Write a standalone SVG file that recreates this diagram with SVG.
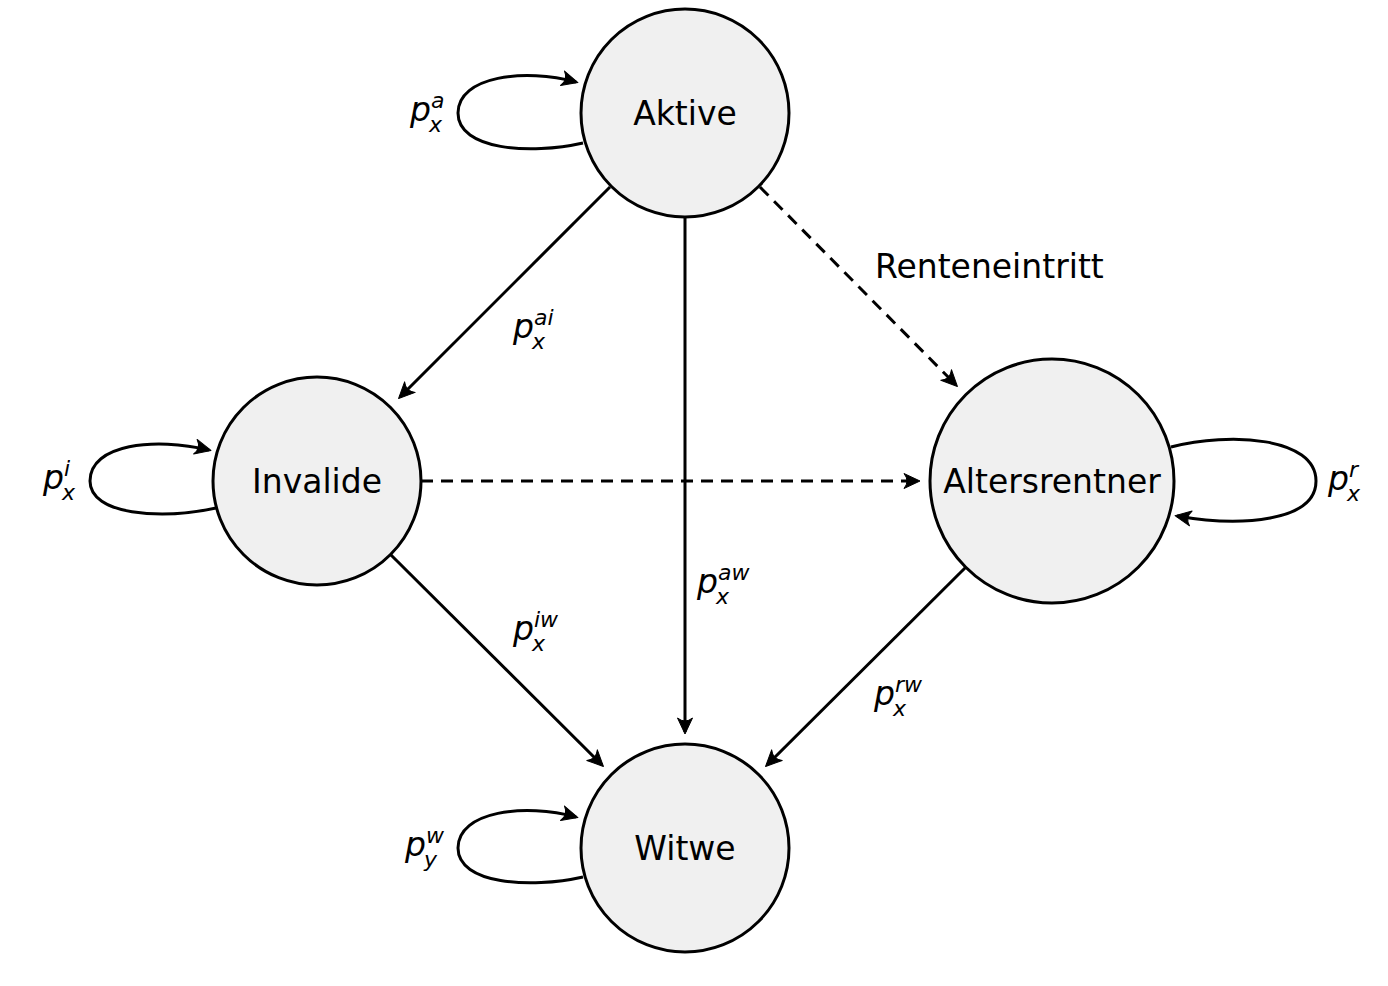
<svg xmlns="http://www.w3.org/2000/svg" width="1388" height="986" viewBox="0 0 1388 986">
<style>
.node circle{fill:#f0f0f0;stroke:#000;stroke-width:3}
.node text{font-family:"DejaVu Sans",sans-serif;font-size:33px;text-anchor:middle;fill:#000}
.edge{fill:none;stroke:#000;stroke-width:3}
.dash{stroke-dasharray:12 8}
.m{font-family:"DejaVu Sans",sans-serif;font-style:italic;fill:#000}
.p{font-size:33px}
.s{font-size:22px}
.lbl{font-family:"DejaVu Sans",sans-serif;font-size:33px;fill:#000}
</style>
<defs>
<marker id="arr" markerUnits="userSpaceOnUse" markerWidth="30" markerHeight="30" refX="-2" refY="0" orient="auto" overflow="visible">
<path d="M0,0 L-16,-7.5 Q-10,0 -16,7.5 Z" fill="#000" stroke="#000" stroke-width="1" stroke-linejoin="round"/>
</marker>
</defs>
<rect width="1388" height="986" fill="#fff"/>
<g id="connectors">
<path class="edge" d="M610,187 L400,397" marker-end="url(#arr)"/>
<path class="edge" d="M685,217 L685,732" marker-end="url(#arr)"/>
<path class="edge dash" d="M760,187 L956,385" marker-end="url(#arr)"/>
<path class="edge dash" d="M421,481 L918,481" marker-end="url(#arr)"/>
<path class="edge" d="M391,555 L602,765" marker-end="url(#arr)"/>
<path class="edge" d="M966,567 L767,765" marker-end="url(#arr)"/>
<path class="edge" d="M583,143 C530,155 458,150 458,113 C458,76 525,68 576,82" marker-end="url(#arr)"/>
<path class="edge" d="M216,508 C160,520 90,515 90,481 C90,444 155,437 209,450" marker-end="url(#arr)"/>
<path class="edge" d="M583,877 C530,889 458,884 458,848 C458,811 525,803 576,817" marker-end="url(#arr)"/>
<path class="edge" d="M1171,447 C1230,432 1316,437 1316,481 C1316,522 1240,527 1177,516" marker-end="url(#arr)"/>
<text class="lbl" x="875" y="278">Renteneintritt</text>
<text class="m p" x="410" y="121">p</text><text class="m s" x="431" y="108">a</text><text class="m s" x="429" y="132">x</text>
<text class="m p" x="513" y="338">p</text><text class="m s" x="534" y="325">ai</text><text class="m s" x="532" y="349">x</text>
<text class="m p" x="43" y="489">p</text><text class="m s" x="64" y="476">i</text><text class="m s" x="62" y="500">x</text>
<text class="m p" x="697" y="593">p</text><text class="m s" x="718" y="580">aw</text><text class="m s" x="716" y="604">x</text>
<text class="m p" x="513" y="640">p</text><text class="m s" x="534" y="627">iw</text><text class="m s" x="532" y="651">x</text>
<text class="m p" x="874" y="705">p</text><text class="m s" x="895" y="692">rw</text><text class="m s" x="893" y="716">x</text>
<text class="m p" x="1328" y="490">p</text><text class="m s" x="1349" y="477">r</text><text class="m s" x="1347" y="501">x</text>
<text class="m p" x="405" y="856">p</text><text class="m s" x="426" y="843">w</text><text class="m s" x="424" y="867">y</text>
</g>
<g id="aktive" class="node"><circle cx="685" cy="113" r="104"/><text x="685" y="125">Aktive</text></g>
<g id="invalide" class="node"><circle cx="317" cy="481" r="104"/><text x="317" y="493">Invalide</text></g>
<g id="altersrentner" class="node"><circle cx="1052" cy="481" r="122"/><text x="1052" y="493">Altersrentner</text></g>
<g id="witwe" class="node"><circle cx="685" cy="848" r="104"/><text x="685" y="860">Witwe</text></g>
</svg>
